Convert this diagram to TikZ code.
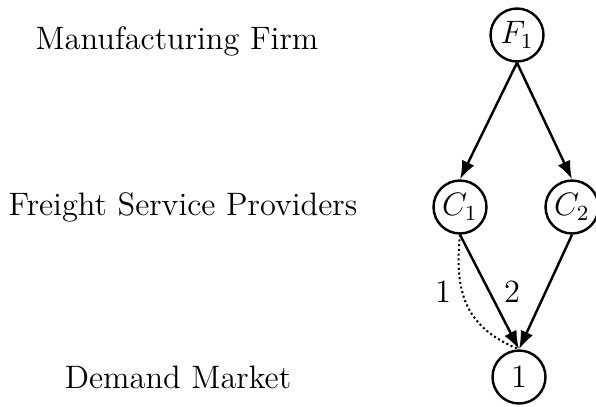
\documentclass[12pt,tikz,border=0pt]{standalone}
\usetikzlibrary{arrows.meta}
\begin{document}
\begin{tikzpicture}[x=0.370pt,y=-0.370pt,
  netnode/.style={circle,draw,line width=0.9pt,minimum size=19.6pt,inner sep=0pt},
  arr/.style={-{Latex[length=6.8pt,width=5pt]},line width=0.9pt},
  lbl/.style={anchor=center}]
\useasboundingbox (0,0) rectangle (596,406);
\node[lbl] (t1) at (177,41) {Manufacturing Firm};
\node[lbl] (t2) at (183,207) {Freight Service Providers};
\node[lbl] (t3) at (178,377) {Demand Market};
\node[netnode] (F) at (517,35) {$F_1$};
\node[netnode] (C1) at (460,207) {$C_1$};
\node[netnode] (C2) at (572,207) {$C_2$};
\node[netnode] (D) at (519,377) {$1$};
\draw[arr] (F.south) -- (C1.north);
\draw[arr] (F.south) -- (C2.north);
\draw[arr] (C1.south) -- (D.north);
\draw[arr] (C2.south) -- (D.north);
\draw[densely dotted,line width=0.75pt] (C1.south) to[out=-96,in=158,looseness=1.15] (D.north);
\node[lbl] (l1) at (443,292) {1};
\node[lbl] (l2) at (512,292) {2};
\end{tikzpicture}
\end{document}
